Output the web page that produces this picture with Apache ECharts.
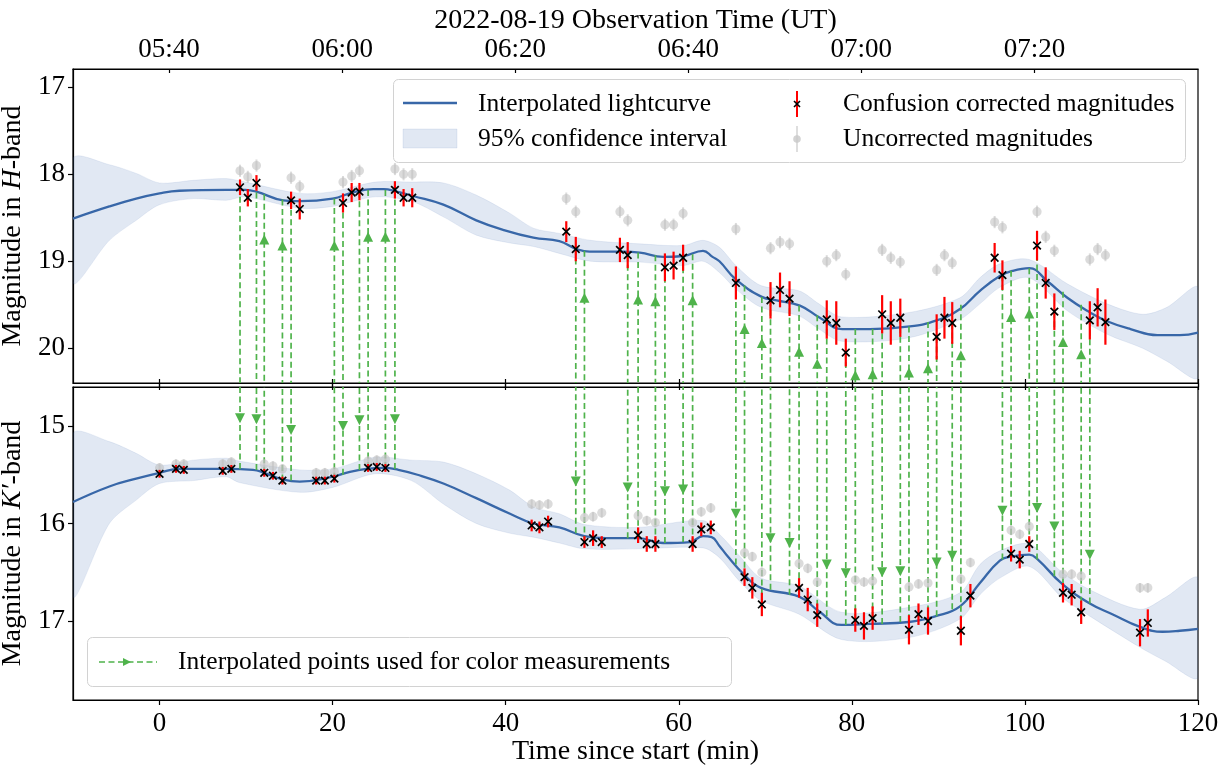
<!DOCTYPE html>
<html><head><meta charset="utf-8">
<script src="https://cdn.jsdelivr.net/npm/echarts@6/dist/echarts.min.js"></script>
<style>html,body{margin:0;padding:0;background:#fff}#c{width:1220px;height:768px}</style>
</head><body><div id="c"></div>
<script>
// ---------------- data ----------------
const xTicks = [0, 20, 40, 60, 80, 100, 120];
const utTickT = [1.1, 21.1, 41.1, 61.1, 81.1, 101.1];
const utLabels = ['05:40', '06:00', '06:20', '06:40', '07:00', '07:20'];
const hTicks = [17, 18, 19, 20];
const kTicks = [15, 16, 17];

// H-band interpolated light curve
const hCurveT = [-10,-5.8,-2.7,0,2.3,7.7,9.9,11.2,14.3,16.2,20.0,22.3,24.7,25.9,27.4,29.3,32.8,36.6,39.7,43.2,46.2,48.2,49.7,53.5,55.5,58.2,60.5,62.8,63.9,64.7,66.6,69.6,71.3,74.0,76.3,78.9,82.1,86.7,89.8,92.5,94.8,97.1,98.6,100.5,102.6,104.9,107.2,109.5,112.2,115.3,117.9,120];
const hCurveV = [18.51,18.37,18.28,18.22,18.19,18.18,18.18,18.20,18.30,18.31,18.28,18.21,18.17,18.17,18.20,18.25,18.35,18.53,18.64,18.73,18.77,18.86,18.89,18.89,18.90,18.95,18.94,18.88,18.95,19.00,19.21,19.41,19.45,19.51,19.65,19.78,19.78,19.75,19.68,19.55,19.34,19.17,19.11,19.08,19.23,19.42,19.57,19.69,19.78,19.85,19.85,19.82];
// H-band 95% confidence interval
const hBandT  = [-10,-5.8,-2.7,0,3.9,7.7,9.9,16.2,20.0,24.9,29.1,32.8,36.6,40.5,43.2,46.2,49.8,55.5,60.5,62.8,64.7,66.6,69.5,73.9,76.2,78.8,86.6,92.5,94.8,97.1,100.5,104.9,109.5,113.6,116.4,120];
const hBandLo = [17.82,17.89,17.99,18.10,18.07,18.05,18.09,18.22,18.20,18.09,18.09,18.10,18.24,18.45,18.62,18.68,18.76,18.80,18.82,18.76,18.84,19.05,19.28,19.34,19.49,19.64,19.59,19.42,19.19,19.03,18.98,19.26,19.49,19.61,19.53,19.30];
const hBandHi = [19.25,18.76,18.53,18.35,18.28,18.30,18.26,18.39,18.37,18.26,18.31,18.49,18.70,18.79,18.83,18.91,19.00,19.01,19.05,19.00,19.13,19.32,19.53,19.63,19.78,19.92,19.88,19.67,19.49,19.30,19.19,19.57,19.84,20.00,20.15,20.34];

// K'-band interpolated light curve
const kCurveT = [-10,-5.8,-2.7,0,2.3,7.7,10.8,12.1,14.3,16.2,20.0,22.0,23.9,25.9,27.6,29.8,32.8,36.6,40.5,43.2,46.2,49.1,51.6,55.3,58.2,61.3,62.8,63.8,64.7,65.5,67.5,69.5,73.9,76.2,78.8,82.0,86.6,89.7,92.5,94.8,97.1,98.4,100.5,101.5,104.3,107.5,110.1,113.3,115.9,117.9,120];
const kCurveV = [15.78,15.62,15.54,15.48,15.44,15.44,15.45,15.48,15.55,15.57,15.52,15.47,15.44,15.43,15.45,15.50,15.59,15.74,15.90,16.00,16.04,16.13,16.15,16.15,16.20,16.19,16.13,16.14,16.23,16.32,16.52,16.66,16.75,16.90,17.04,17.03,17.01,16.95,16.85,16.61,16.38,16.34,16.32,16.37,16.62,16.82,16.93,17.06,17.11,17.10,17.08];
// K'-band 95% confidence interval
const kBandT  = [-10,-5.8,-2.7,0,3.9,7.7,9.2,16.2,20.0,24.9,29.1,32.8,36.6,40.5,43.2,46.2,49.1,55.3,62.8,64.7,67.0,69.5,73.9,78.8,86.6,92.5,94.8,97.1,100.5,104.3,107.5,113.3,116.2,120];
const kBandLo = [15.08,15.16,15.28,15.40,15.35,15.33,15.36,15.45,15.44,15.32,15.35,15.37,15.49,15.66,15.83,15.90,16.01,16.04,15.97,16.11,16.33,16.56,16.64,16.91,16.86,16.71,16.42,16.28,16.21,16.50,16.68,16.88,16.76,16.56];
const kBandHi = [16.75,16.00,15.76,15.59,15.56,15.52,15.58,15.68,15.63,15.49,15.56,15.80,16.00,16.10,16.14,16.20,16.26,16.26,16.25,16.35,16.59,16.79,16.93,17.19,17.17,16.98,16.73,16.56,16.44,16.76,16.95,17.27,17.41,17.58];

// H-band measurements
const hObsT   = [9.3,10.2,11.2,15.2,16.2,21.2,22.2,23.1,27.2,28.2,29.2,47.0,48.1,53.2,54.1,58.4,59.4,60.5,66.6,70.6,71.7,72.8,77.1,78.2,79.3,83.5,84.5,85.6,89.8,90.7,91.6,96.5,97.4,101.4,102.4,103.4,107.5,108.4,109.3];
const hCorr   = [18.15,18.27,18.10,18.30,18.40,18.33,18.21,18.20,18.18,18.27,18.27,18.66,18.86,18.87,18.93,19.07,19.05,18.96,19.25,19.45,19.33,19.43,19.67,19.71,20.05,19.61,19.71,19.65,19.87,19.65,19.71,18.96,19.16,18.82,19.25,19.58,19.68,19.53,19.70];
const hErr    = [0.09,0.10,0.09,0.10,0.12,0.11,0.11,0.10,0.10,0.10,0.11,0.12,0.14,0.14,0.15,0.16,0.16,0.15,0.19,0.21,0.20,0.20,0.22,0.25,0.16,0.22,0.25,0.22,0.26,0.24,0.24,0.17,0.17,0.17,0.18,0.21,0.22,0.22,0.26];
const hUncorr = [17.96,18.03,17.90,18.04,18.14,18.09,18.02,17.96,17.94,18.00,18.00,18.28,18.43,18.43,18.53,18.58,18.58,18.45,18.63,18.85,18.78,18.80,19.00,18.93,19.15,18.87,18.96,19.01,19.10,18.93,19.02,18.55,18.61,18.43,18.72,18.88,18.98,18.86,18.93];
const hUncorrErr = 0.07;

// K'-band measurements
const kObsT   = [0.0,1.9,2.8,7.3,8.3,12.1,13.1,14.2,18.1,19.1,20.2,24.1,25.1,26.1,43.0,43.9,44.9,49.1,50.1,51.1,55.3,56.3,57.3,61.6,62.6,63.7,67.6,68.5,69.6,73.9,74.9,76.0,80.4,81.4,82.4,86.6,87.7,88.8,92.6,93.7,98.4,99.4,100.5,104.4,105.4,106.5,113.3,114.2];
const kCorr   = [15.49,15.44,15.45,15.46,15.44,15.48,15.51,15.56,15.56,15.56,15.54,15.43,15.42,15.43,16.02,16.04,15.98,16.19,16.15,16.19,16.12,16.21,16.21,16.21,16.06,16.04,16.55,16.66,16.83,16.66,16.78,16.94,16.99,17.05,16.97,17.09,16.93,17.00,17.10,16.74,16.31,16.37,16.21,16.71,16.73,16.91,17.12,17.02];
const kErr    = [0.04,0.04,0.04,0.04,0.04,0.04,0.04,0.04,0.04,0.04,0.04,0.04,0.04,0.04,0.06,0.06,0.06,0.06,0.08,0.06,0.08,0.08,0.08,0.08,0.07,0.07,0.09,0.11,0.12,0.10,0.12,0.12,0.12,0.14,0.12,0.15,0.11,0.14,0.15,0.12,0.08,0.09,0.08,0.10,0.11,0.12,0.14,0.14];
const kUncorr = [15.43,15.39,15.39,15.39,15.37,15.39,15.41,15.44,15.48,15.48,15.47,15.36,15.35,15.34,15.80,15.81,15.80,15.94,15.93,15.89,15.92,15.97,15.99,15.99,15.88,15.84,16.30,16.34,16.50,16.41,16.46,16.60,16.58,16.60,16.59,16.65,16.62,16.61,16.57,16.40,16.07,16.11,16.03,16.52,16.52,16.54,16.66,16.66];
const kUncorrErr = 0.05;

// Interpolated points used for colour measurements
// H measurement epochs -> interpolated K' value (arrow pointing down in K' panel)
const downT      = [9.3,11.2,15.2,21.2,23.1,27.2,48.1,54.1,58.4,60.5,66.6,70.6,72.8,77.1,79.3,83.5,85.6,89.8,91.6,97.4,101.4,103.4,107.5];
const downFromH  = [18.15,18.10,18.30,18.33,18.20,18.18,18.86,18.93,19.07,18.96,19.25,19.45,19.43,19.67,20.05,19.61,19.65,19.87,19.71,19.16,18.82,19.58,19.68];
const downToK    = [15.44,15.45,15.56,15.50,15.45,15.44,16.10,16.15,16.20,16.19,16.42,16.68,16.73,16.95,17.04,17.03,17.01,16.95,16.88,16.37,16.37,16.54,16.82];
const downArrowK = [14.92,14.93,15.04,15.00,14.94,14.93,15.57,15.63,15.67,15.65,15.90,16.15,16.20,16.42,16.51,16.50,16.49,16.40,16.33,15.87,15.84,16.03,16.32];
// K' measurement epochs -> interpolated H value (arrow pointing up in H panel)
const upT       = [12.1,14.2,20.2,24.1,26.1,49.1,55.3,57.3,61.6,67.6,69.6,73.9,76.0,80.4,82.4,86.6,88.8,92.6,98.4,100.5,104.4,106.5];
const upFromK   = [15.48,15.56,15.54,15.43,15.43,16.19,16.12,16.21,16.21,16.55,16.83,16.66,16.94,16.99,16.97,17.09,17.00,17.10,16.31,16.21,16.71,16.91];
const upToH     = [18.23,18.29,18.28,18.18,18.18,18.88,18.90,18.93,18.92,19.28,19.41,19.51,19.62,19.78,19.78,19.75,19.70,19.50,19.11,19.08,19.35,19.50];
const upArrowH  = [18.75,18.82,18.82,18.72,18.72,19.42,19.44,19.46,19.45,19.78,19.94,20.04,20.18,20.31,20.30,20.28,20.23,20.08,19.64,19.60,19.93,20.07];

// ---------------- style ----------------
const FONT = '"Liberation Serif", "DejaVu Serif", serif';
const CURVE = '#3867a8';
const BAND_FILL = 'rgba(70,110,180,0.16)';
const BAND_EDGE = 'rgba(70,110,180,0.10)';
const GREEN = '#4fb34b';
const GREY = 'rgba(190,190,190,0.55)';
const AX = {color: '#000', width: 1.2};

const zip2 = (a, b) => a.map((v, i) => [v, b[i]]);
const zip3 = (a, b, c) => a.map((v, i) => [v, b[i], c[i]]);

function bandSeries(xi, yi, T, LO, HI) {
  return {
    type: 'custom', xAxisIndex: xi, yAxisIndex: yi, clip: true, silent: true, z: 1,
    data: [[T[0], LO[0]]], encode: {x: 0, y: 1},
    renderItem(params, api) {
      const pts = [];
      for (let i = 0; i < T.length; i++) pts.push(api.coord([T[i], LO[i]]));
      for (let i = T.length - 1; i >= 0; i--) pts.push(api.coord([T[i], HI[i]]));
      return {type: 'polygon', shape: {points: pts, smooth: 0.3},
              style: {fill: BAND_FILL, stroke: BAND_EDGE, lineWidth: 1}};
    }
  };
}
function curveSeries(xi, yi, T, V) {
  return {type: 'line', xAxisIndex: xi, yAxisIndex: yi, data: zip2(T, V), smooth: 0.45,
          showSymbol: false, silent: true, z: 3,
          lineStyle: {color: CURVE, width: 2.3}};
}
// dashed connector: toEdge 'bottom' or 'top' of grid; arrow 'up'/'down'/null
function connSeries(xi, yi, data, toEdge, arrowDir) {
  return {
    type: 'custom', xAxisIndex: xi, yAxisIndex: yi, clip: true, silent: true, z: 4,
    data: data, encode: {x: 0, y: 1},
    renderItem(params, api) {
      const cs = params.coordSys;
      const p = api.coord([api.value(0), api.value(1)]);
      const yEdge = toEdge === 'bottom' ? cs.y + cs.height + 2 : cs.y - 2;
      const children = [{type: 'line', shape: {x1: p[0], y1: p[1], x2: p[0], y2: yEdge},
        style: {stroke: GREEN, lineWidth: 1.7, lineDash: [6, 3.5]}}];
      if (arrowDir) {
        const a = api.coord([api.value(0), api.value(2)]);
        const s = 5;
        const pts = arrowDir === 'up'
          ? [[a[0], a[1] - s], [a[0] - s, a[1] + s], [a[0] + s, a[1] + s]]
          : [[a[0], a[1] + s], [a[0] - s, a[1] - s], [a[0] + s, a[1] - s]];
        children.push({type: 'polygon', shape: {points: pts}, style: {fill: GREEN}});
      }
      return {type: 'group', children};
    }
  };
}
function greySeries(xi, yi, T, V, E) {
  return {
    type: 'custom', xAxisIndex: xi, yAxisIndex: yi, clip: true, silent: true, z: 5,
    data: zip2(T, V), encode: {x: 0, y: 1},
    renderItem(params, api) {
      const t = api.value(0), v = api.value(1);
      const p = api.coord([t, v]), a = api.coord([t, v - E]), b = api.coord([t, v + E]);
      return {type: 'group', children: [
        {type: 'line', shape: {x1: a[0], y1: a[1], x2: b[0], y2: b[1]}, style: {stroke: GREY, lineWidth: 2}},
        {type: 'circle', shape: {cx: p[0], cy: p[1], r: 4.6}, style: {fill: GREY}}
      ]};
    }
  };
}
function corrSeries(xi, yi, T, V, E) {
  return {
    type: 'custom', xAxisIndex: xi, yAxisIndex: yi, clip: true, silent: true, z: 6,
    data: zip3(T, V, E), encode: {x: 0, y: 1},
    renderItem(params, api) {
      const t = api.value(0), v = api.value(1), e = api.value(2);
      const p = api.coord([t, v]), a = api.coord([t, v - e]), b = api.coord([t, v + e]);
      const s = 3.8;
      return {type: 'group', children: [
        {type: 'line', shape: {x1: a[0], y1: a[1], x2: b[0], y2: b[1]}, style: {stroke: '#ff0000', lineWidth: 2.2}},
        {type: 'line', shape: {x1: p[0] - s, y1: p[1] - s, x2: p[0] + s, y2: p[1] + s}, style: {stroke: '#000', lineWidth: 1.7}},
        {type: 'line', shape: {x1: p[0] - s, y1: p[1] + s, x2: p[0] + s, y2: p[1] - s}, style: {stroke: '#000', lineWidth: 1.7}}
      ]};
    }
  };
}

const nameStyle = {fontFamily: FONT, fontSize: 28, color: '#000'};
const labelStyle = {fontFamily: FONT, fontSize: 27, color: '#000'};
const richName = {a: {fontFamily: FONT, fontSize: 28, color: '#000'},
                  b: {fontFamily: FONT, fontSize: 28, fontStyle: 'italic', color: '#000'}};

const option = {
  animation: false,
  backgroundColor: '#fff',
  grid: [
    {left: 73, right: 22, top: 69, height: 314, containLabel: false, outerBoundsMode: 'none',
     show: true, borderColor: '#000', borderWidth: 1.2, backgroundColor: 'transparent'},
    {left: 73, right: 22, top: 387, height: 313, containLabel: false, outerBoundsMode: 'none',
     show: true, borderColor: '#000', borderWidth: 1.2, backgroundColor: 'transparent'}
  ],
  xAxis: [
    {gridIndex: 0, type: 'value', min: -10, max: 120, position: 'bottom',
     axisLine: {onZero: false, lineStyle: AX}, axisTick: {customValues: xTicks, length: 7, lineStyle: AX},
     axisLabel: {show: false}, splitLine: {show: false}},
    {gridIndex: 0, type: 'value', min: -10, max: 120, position: 'top',
     axisLine: {onZero: false, lineStyle: AX}, axisTick: {customValues: utTickT, inside: true, length: 4, lineStyle: AX},
     axisLabel: Object.assign({customValues: utTickT, margin: 6,
       formatter: v => { const i = utTickT.findIndex(u => Math.abs(u - v) < 1e-6); return i >= 0 ? utLabels[i] : ''; }}, labelStyle),
     splitLine: {show: false},
     name: '2022-08-19 Observation Time (UT)', nameLocation: 'middle', nameGap: 33, nameTextStyle: nameStyle},
    {gridIndex: 1, type: 'value', min: -10, max: 120, position: 'bottom',
     axisLine: {onZero: false, lineStyle: AX}, axisTick: {customValues: xTicks, length: 5, lineStyle: AX},
     axisLabel: Object.assign({customValues: xTicks, margin: 10}, labelStyle), splitLine: {show: false},
     name: 'Time since start (min)', nameLocation: 'middle', nameGap: 38, nameTextStyle: nameStyle},
    {gridIndex: 1, type: 'value', min: -10, max: 120, position: 'top',
     axisLine: {onZero: false, lineStyle: AX}, axisTick: {customValues: xTicks, length: 8, lineStyle: AX},
     axisLabel: {show: false}, splitLine: {show: false}}
  ],
  yAxis: [
    {gridIndex: 0, type: 'value', inverse: true, min: 16.79, max: 20.40,
     axisLine: {show: true, onZero: false, lineStyle: AX}, axisTick: {show: true, customValues: hTicks, length: 5, lineStyle: AX},
     axisLabel: Object.assign({customValues: hTicks, margin: 8}, labelStyle), splitLine: {show: false},
     name: '{a|Magnitude in }{b|H}{a|-band}', nameLocation: 'middle', nameGap: 40, nameRotate: 90,
     nameTextStyle: Object.assign({rich: richName}, nameStyle)},
    {gridIndex: 1, type: 'value', inverse: true, min: 14.60, max: 17.81,
     axisLine: {show: true, onZero: false, lineStyle: AX}, axisTick: {show: true, customValues: kTicks, length: 5, lineStyle: AX},
     axisLabel: Object.assign({customValues: kTicks, margin: 8}, labelStyle), splitLine: {show: false},
     name: '{a|Magnitude in }{b|K′}{a|-band}', nameLocation: 'middle', nameGap: 40, nameRotate: 90,
     nameTextStyle: Object.assign({rich: richName}, nameStyle)}
  ],
  series: [
    bandSeries(0, 0, hBandT, hBandLo, hBandHi),
    bandSeries(2, 1, kBandT, kBandLo, kBandHi),
    curveSeries(0, 0, hCurveT, hCurveV),
    curveSeries(2, 1, kCurveT, kCurveV),
    connSeries(0, 0, zip2(downT, downFromH), 'bottom', null),
    connSeries(0, 0, zip3(upT, upToH, upArrowH), 'bottom', 'up'),
    connSeries(2, 1, zip3(downT, downToK, downArrowK), 'top', 'down'),
    connSeries(2, 1, zip2(upT, upFromK), 'top', null),
    greySeries(0, 0, hObsT, hUncorr, hUncorrErr),
    greySeries(2, 1, kObsT, kUncorr, kUncorrErr),
    corrSeries(0, 0, hObsT, hCorr, hErr),
    corrSeries(2, 1, kObsT, kCorr, kErr)
  ],
  graphic: [
    // top legend
    {type: 'rect', shape: {x: 393.5, y: 79.5, width: 792, height: 83, r: 5}, style: {fill: 'rgba(255,255,255,0.85)', stroke: '#d2d2d2', lineWidth: 1}, z: 100},
    {type: 'line', shape: {x1: 403, y1: 103, x2: 457, y2: 103}, style: {stroke: CURVE, lineWidth: 2.5}, z: 101},
    {type: 'rect', shape: {x: 403, y: 129, width: 54, height: 19}, style: {fill: BAND_FILL, stroke: BAND_EDGE, lineWidth: 1}, z: 101},
    {type: 'text', x: 478, y: 104, style: {text: 'Interpolated lightcurve', fontFamily: FONT, fontSize: 25.5, fill: '#000', verticalAlign: 'middle'}, z: 101},
    {type: 'text', x: 478, y: 139, style: {text: '95% confidence interval', fontFamily: FONT, fontSize: 25.5, fill: '#000', verticalAlign: 'middle'}, z: 101},
    {type: 'line', shape: {x1: 797, y1: 91, x2: 797, y2: 117}, style: {stroke: '#ff0000', lineWidth: 2}, z: 101},
    {type: 'line', shape: {x1: 794, y1: 101, x2: 800, y2: 107}, style: {stroke: '#000', lineWidth: 1.6}, z: 102},
    {type: 'line', shape: {x1: 794, y1: 107, x2: 800, y2: 101}, style: {stroke: '#000', lineWidth: 1.6}, z: 102},
    {type: 'line', shape: {x1: 797, y1: 126, x2: 797, y2: 152}, style: {stroke: 'rgba(200,200,200,0.6)', lineWidth: 2}, z: 101},
    {type: 'circle', shape: {cx: 797, cy: 139, r: 3.8}, style: {fill: 'rgba(200,200,200,0.8)'}, z: 101},
    {type: 'text', x: 843, y: 104, style: {text: 'Confusion corrected magnitudes', fontFamily: FONT, fontSize: 25.5, fill: '#000', verticalAlign: 'middle'}, z: 101},
    {type: 'text', x: 843, y: 139, style: {text: 'Uncorrected magnitudes', fontFamily: FONT, fontSize: 25.5, fill: '#000', verticalAlign: 'middle'}, z: 101},
    // bottom legend
    {type: 'rect', shape: {x: 87.5, y: 637.5, width: 644, height: 49, r: 5}, style: {fill: 'rgba(255,255,255,0.85)', stroke: '#d2d2d2', lineWidth: 1}, z: 100},
    {type: 'line', shape: {x1: 99, y1: 662, x2: 157, y2: 662}, style: {stroke: GREEN, lineWidth: 1.7, lineDash: [6, 3.5]}, z: 101},
    {type: 'polygon', shape: {points: [[123, 658], [131, 662], [123, 666]]}, style: {fill: GREEN}, z: 102},
    {type: 'text', x: 178, y: 662, style: {text: 'Interpolated points used for color measurements', fontFamily: FONT, fontSize: 25.5, fill: '#000', verticalAlign: 'middle'}, z: 101}
  ]
};

const chart = echarts.init(document.getElementById('c'), null, {renderer: 'canvas'});
chart.setOption(option);
</script>
</body></html>
